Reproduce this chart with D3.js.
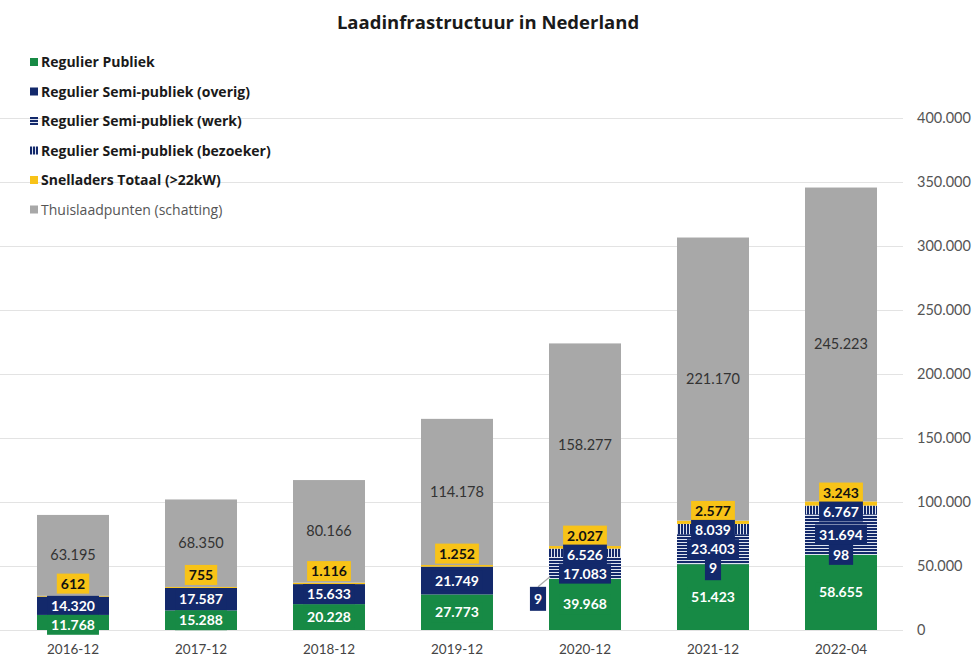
<!doctype html>
<html lang="nl">
<head>
<meta charset="utf-8" />
<script src="https://d3js.org/d3.v7.min.js"></script>
<style>
  body { margin: 0; background: #fff; }
  svg text { font-family: Lato, "Open Sans", sans-serif; }
  .title { font-family: "Open Sans", sans-serif !important; font-size: 18.5px; font-weight: bold; fill: #1a1a1a; }
  .legend text { font-family: "Open Sans", sans-serif !important; font-size: 14px; font-weight: bold; fill: #1a1a1a; }
  .axis text { font-size: 14.5px; fill: #555; }
  .seg-label { font-size: 14px; font-weight: bold; text-anchor: middle; }
  .home-label { font-size: 14.5px; fill: #333; text-anchor: middle; }
</style>
</head>
<body>
<div id="chart"></div>
<script>
  // data
  var periods = ["2016-12", "2017-12", "2018-12", "2019-12", "2020-12", "2021-12", "2022-04"];
  var publiek      = [11768, 15288, 20228, 27773, 39968, 51423, 58655];
  var semiOverig   = [14320, 17587, 15633, 21749, 9, 9, 98];
  var semiWerk     = [0, 0, 0, 0, 17083, 23403, 31694];
  var semiBezoeker = [0, 0, 0, 0, 6526, 8039, 6767];
  var snelladers   = [612, 755, 1116, 1252, 2027, 2577, 3243];
  var thuis        = [63195, 68350, 80166, 114178, 158277, 221170, 245223];
  var yTicks = [0, 50000, 100000, 150000, 200000, 250000, 300000, 350000, 400000];

  var keys = ["publiek", "overig", "werk", "bezoeker", "snel", "thuis"];
  var legendNames = ["Regulier Publiek", "Regulier Semi-publiek (overig)", "Regulier Semi-publiek (werk)",
                     "Regulier Semi-publiek (bezoeker)", "Snelladers Totaal (>22kW)", "Thuislaadpunten (schatting)"];
  // label that is drawn beside the bar with a leader line
  var calloutPeriod = "2020-12", calloutKey = "overig";

  var rows = periods.map(function(p, i) {
    return { period: p, publiek: publiek[i], overig: semiOverig[i], werk: semiWerk[i],
             bezoeker: semiBezoeker[i], snel: snelladers[i], thuis: thuis[i] };
  });

  var width = 976, height = 657;
  var navy = "#13296b", green = "#178a45", yellow = "#f8c318", grey = "#a8a8a8";
  var fills = { publiek: green, overig: navy, werk: "url(#werk)", bezoeker: "url(#bezoeker)", snel: yellow, thuis: grey };
  var boxFill = { publiek: green, overig: navy, werk: navy, bezoeker: navy, snel: yellow };
  var textFill = { publiek: "#fff", overig: "#fff", werk: "#fff", bezoeker: "#fff", snel: "#111" };

  var nl = d3.formatLocale({ decimal: ",", thousands: ".", grouping: [3], currency: ["€", ""] });
  var fmt = nl.format(",d");

  var svg = d3.select("#chart").append("svg")
      .attr("width", width)
      .attr("height", height);

  var defs = svg.append("defs");
  var pw = defs.append("pattern").attr("id", "werk").attr("patternUnits", "userSpaceOnUse")
      .attr("width", 4).attr("height", 3);
  pw.append("rect").attr("width", 4).attr("height", 3).attr("fill", navy);
  pw.append("rect").attr("y", 2).attr("width", 4).attr("height", 1).attr("fill", "#dfe4ef");
  var pb = defs.append("pattern").attr("id", "bezoeker").attr("patternUnits", "userSpaceOnUse")
      .attr("width", 3).attr("height", 4);
  pb.append("rect").attr("width", 3).attr("height", 4).attr("fill", navy);
  pb.append("rect").attr("x", 2).attr("width", 1).attr("height", 4).attr("fill", "#dfe4ef");

  var x = d3.scaleBand().domain(periods).range([9, 905])
      .paddingInner(0.4375).paddingOuter(0.21875);
  var y = d3.scaleLinear().domain([0, 400000]).range([630, 118]);

  svg.append("text").attr("class", "title")
      .attr("x", 488).attr("y", 29).attr("text-anchor", "middle")
      .text("Laadinfrastructuur in Nederland");

  // gridlines + right axis
  var axis = svg.append("g").attr("class", "axis").attr("transform", "translate(903,0)")
      .call(d3.axisRight(y).tickValues(yTicks).tickFormat(fmt).tickSize(-903).tickPadding(14));
  axis.select(".domain").remove();
  axis.selectAll("line").attr("stroke", "#e3e3e3");

  var xAxis = svg.append("g").attr("class", "axis").attr("transform", "translate(0,630)")
      .call(d3.axisBottom(x).tickSize(0).tickPadding(14));
  xAxis.select(".domain").remove();
  xAxis.selectAll("text").style("fill", "#444").style("font-size", "13.5px");

  var series = d3.stack().keys(keys)(rows);

  svg.append("g").selectAll("g")
    .data(series)
    .enter().append("g")
      .attr("fill", function(d) { return fills[d.key]; })
    .selectAll("rect")
    .data(function(d) { return d; })
    .enter().append("rect")
      .attr("x", function(d) { return x(d.data.period); })
      .attr("width", x.bandwidth())
      .attr("y", function(d) { return y(d[1]); })
      .attr("height", function(d) { return y(d[0]) - y(d[1]); });

  // segment labels: snel sits just above its base, the rest stacked downward
  var labels = svg.append("g");
  rows.forEach(function(r, i) {
    var cx = x(r.period) + x.bandwidth() / 2;
    var segs = {};
    series.forEach(function(s) { segs[s.key] = s[i]; });

    var home = segs.thuis;
    labels.append("text").attr("class", "home-label")
        .attr("x", cx).attr("y", (y(home[0]) + y(home[1])) / 2 + 5)
        .text(fmt(r.thuis));

    var prev = y(segs.snel[0]) - 13;
    drawBox(r.period, "snel", cx, prev, r.snel);
    ["bezoeker", "werk", "overig", "publiek"].forEach(function(k) {
      if (!r[k]) return;
      if (r.period === calloutPeriod && k === calloutKey) {
        var bx = x(r.period) - 11, by = y(segs[k][1]) + 20;
        labels.append("line")
            .attr("x1", bx).attr("y1", by - 12)
            .attr("x2", x(r.period) + 1).attr("y2", y(segs[k][1]) - 2)
            .attr("stroke", "#aaa").attr("stroke-width", 1.2);
        drawBox(r.period, k, bx, by, r[k]);
        return;
      }
      var mid = (y(segs[k][0]) + y(segs[k][1])) / 2;
      prev = Math.max(mid, prev + 19);
      drawBox(r.period, k, cx, prev, r[k]);
    });
  });

  function drawBox(period, key, cx, cy, value) {
    var g = labels.append("g");
    var t = g.append("text").attr("class", "seg-label")
        .attr("x", cx).attr("y", cy + 5)
        .attr("fill", textFill[key])
        .text(fmt(value));
    var w = t.node().getComputedTextLength() + 8;
    var h = key === "overig" && value < 50 ? 24 : 20;
    g.insert("rect", "text")
        .attr("x", cx - w / 2).attr("y", cy - h / 2)
        .attr("width", w).attr("height", h)
        .attr("fill", boxFill[key]);
  }

  // legend
  var legend = svg.append("g").attr("class", "legend");
  var legendFills = [green, navy, "url(#werk)", "url(#bezoeker)", yellow, grey];
  legendNames.forEach(function(name, i) {
    var ly = 62 + i * 29.5;
    legend.append("rect").attr("x", 30).attr("y", ly - 4).attr("width", 8).attr("height", 8)
        .attr("fill", legendFills[i]);
    legend.append("text").attr("x", 41).attr("y", ly + 5)
        .style("font-weight", i === 5 ? "normal" : "bold")
        .style("fill", i === 5 ? "#555" : "#1a1a1a")
        .text(name);
  });
</script>
</body>
</html>
